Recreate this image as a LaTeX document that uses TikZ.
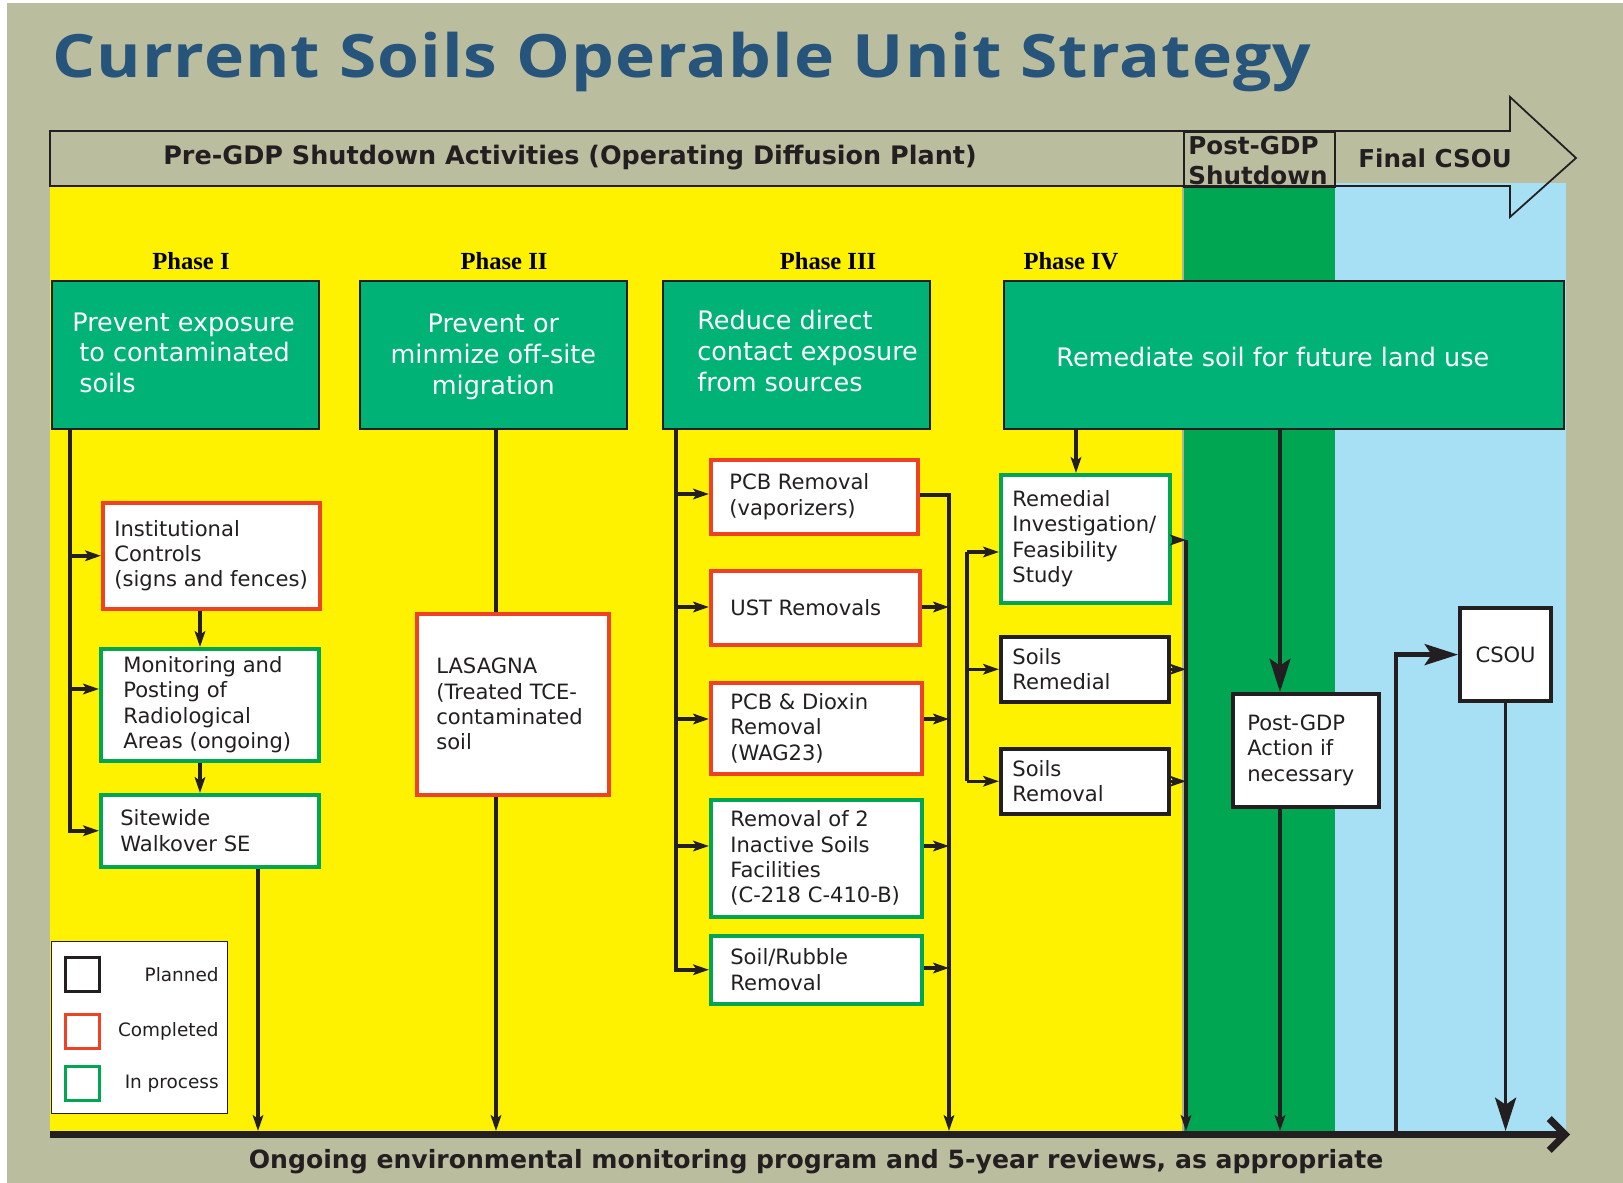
\documentclass[tikz,border=0pt]{standalone}
\usepackage{fontspec}
\setmainfont{DejaVu Sans}
\newfontfamily\titlefont[LetterSpace=1.5]{Open Sans}
\newfontfamily\phasefont{Liberation Serif}
\usetikzlibrary{arrows.meta, calc, positioning}

\definecolor{olivebg}{RGB}{187,189,159}
\definecolor{preyellow}{RGB}{255,242,0}
\definecolor{postgreen}{RGB}{0,166,81}
\definecolor{finalblue}{RGB}{167,223,245}
\definecolor{phasegreen}{RGB}{0,178,118}
\definecolor{donered}{RGB}{239,65,35}
\definecolor{inkblack}{RGB}{35,31,32}
\definecolor{titleblue}{RGB}{38,84,122}

\begin{document}
\begin{tikzpicture}[x=0.02cm, y=-0.02cm]
  \newcommand\barY{1131}
  \newcommand\phtop{280}

  \tikzset{actbox/.style={draw, fill=white, line width=2pt, inner sep=0pt, anchor=north west}}
  \tikzset{planbox/.style={actbox, draw=inkblack}}
  \tikzset{donebox/.style={actbox, draw=donered}}
  \tikzset{procbox/.style={actbox, draw=postgreen}}
  \tikzset{phasebox/.style={draw=inkblack, fill=phasegreen, line width=1pt, inner sep=0pt, anchor=north west, minimum height=2.96cm}}
  \tikzset{boxfont/.style={text=inkblack, font=\fontsize{12}{14.4}\selectfont}}
  \tikzset{boxtext/.style={boxfont, anchor=west, align=left, inner sep=0pt}}
  \tikzset{phasetext/.style={text=white, inner sep=0pt, font=\fontsize{14.5}{17.6}\selectfont}}
  \tikzset{hdrtext/.style={text=inkblack, inner sep=0pt, font=\bfseries\fontsize{14}{17}\selectfont}}
  \tikzset{wire/.style={draw=inkblack, line width=2pt}}
  \tikzset{ptr/.style={wire, -{Stealth[length=9pt, width=6pt, inset=2pt]}}}
  \tikzset{bigptr/.style={wire, -{Stealth[length=19pt, width=12pt, inset=4pt]}}}

  \useasboundingbox (0,0) rectangle (1623,1183);
  \fill[white] (0,0) rectangle (1623,1183);
  \fill[olivebg] (7,3) rectangle (1623,1183);

  % title and time line
  \node[anchor=base west, inner sep=0pt, text=titleblue, font=\titlefont\bfseries\fontsize{34}{36}\selectfont] (title) at (52,77) {\scalebox{1.135}[1]{Current Soils Operable Unit Strategy}};
  \fill[olivebg] (50,131) -- (1510,131) -- (1510,97) -- (1576,158) -- (1510,217) -- (1510,186) -- (50,186) -- cycle;
  \fill[preyellow] (50,186) rectangle (1182,\barY);
  \fill[olivebg!80!gray] (1182,186) rectangle (1184,\barY);
  \fill[postgreen] (1184,186) rectangle (1335,\barY);
  \fill[finalblue] (1335,183) rectangle (1566,\barY);
  \draw[inkblack, line width=1pt] (50,131) -- (1510,131) -- (1510,97) -- (1576,158) -- (1510,217) -- (1510,186) -- (50,186) -- cycle;
  \node[draw=inkblack, line width=1pt, anchor=north west, inner sep=0pt, minimum width=3.02cm, minimum height=1.1cm] (posthdr) at (1183,131) {};
  \node[hdrtext, font=\bfseries\fontsize{14.5}{17}\selectfont] (prehdr) at (570,158) {Pre-GDP Shutdown Activities (Operating Diffusion Plant)};
  \node[hdrtext, align=left, anchor=north west] (posthdr-t) at (1188,136) {Post-GDP\\Shutdown};
  \node[hdrtext, anchor=west] (finalhdr) at (1358,158) {Final CSOU};

  % phases
  \foreach \x/\num [count=\i] in {191/I, 504/II, 828/III, 1071/IV}{
    \node[inner sep=0pt, font=\phasefont\bfseries\fontsize{14}{16}\selectfont] (lbl\i) at (\x,261) {Phase \num};
  }
  \foreach \i/\xl/\phw in {1/51/5.34cm, 2/359/5.34cm, 3/662/5.34cm, 4/1003/11.2cm}{
    \node[phasebox, minimum width=\phw] (ph\i) at (\xl,\phtop) {};
  }
  \node[phasetext, align=left, anchor=west] (ph1-t) at ($(ph1.west)+(21,-2)$) {Prevent exposure\\\hspace*{4pt}to contaminated\\\hspace*{4pt}soils};
  \node[phasetext, align=center] (ph2-t) at ($(ph2)+(0,2)$) {Prevent or\\minmize off-site\\migration};
  \node[phasetext, align=left, anchor=west] (ph3-t) at ($(ph3.west)+(35,-4)$) {Reduce direct\\contact exposure\\from sources};
  \node[phasetext] (ph4-t) at ($(ph4)+(-11,2)$) {Remediate soil for future land use};

  % activities
  \foreach \bx/\xl/\yt/\xr/\yb/\kind/\pad/\txt in {
      inst/101/501/318/607/donebox/13/{Institutional\\Controls\\(signs and fences)},
      mon/99/647/317/759/procbox/24/{Monitoring and\\Posting of\\Radiological\\Areas (ongoing)},
      sw/99/793/317/865/procbox/21/{Sitewide\\Walkover SE},
      las/415/612/607/793/donebox/21/{LASAGNA\\(Treated TCE-\\contaminated\\soil},
      pcb/709/458/916/532/donebox/20/{PCB Removal\\(vaporizers)},
      ust/709/569/918/643/donebox/21/{UST Removals},
      diox/709/681/920/772/donebox/21/{PCB \& Dioxin\\Removal\\(WAG23)},
      inact/709/798/920/915/procbox/21/{Removal of 2\\Inactive Soils\\Facilities\\(C-218 C-410-B)},
      rub/709/934/920/1002/procbox/21/{Soil/Rubble\\Removal},
      rifs/999/473/1168/601/procbox/13/{Remedial\\Investigation/\\Feasibility\\Study},
      srem/999/635/1167/700/planbox/13/{Soils\\Remedial},
      srmv/999/747/1167/812/planbox/13/{Soils\\Removal},
      post/1231/692/1377/805/planbox/16/{Post-GDP\\Action if\\necessary}}{
    \node[\kind, minimum width=(\xr-\xl)*0.02cm, minimum height=(\yb-\yt)*0.02cm] (\bx) at (\xl,\yt) {};
    \node[boxtext] (\bx-t) at ($(\bx.west)+(\pad,0)$) {\txt};
  }
  \node[planbox, boxfont, line width=2.4pt, minimum width=1.82cm, minimum height=1.86cm] (csou) at (1458,606) {CSOU};

  % ongoing monitoring bar
  \coordinate (bar) at (50,\barY);
  \coordinate (barL) at (50,1134.5);
  \coordinate (barR) at (1570,1134.5);
  \draw[inkblack, line width=4pt, -{Straight Barb[length=9pt, width=18pt]}] (barL) -- (barR);
  \node[hdrtext, font=\bfseries\fontsize{14.3}{16}\selectfont] (ongoing) at (816,1162) {Ongoing environmental monitoring program and 5-year reviews, as appropriate};

  % phase I
  \coordinate (trunk1) at (ph1.south -| 70,0);
  \draw[ptr] (trunk1) |- (sw.west);
  \draw[ptr] (trunk1 |- inst.west) -- (inst.west);
  \draw[ptr] (trunk1 |- 0,689) -- (mon.west |- 0,689);
  \draw[ptr] (inst.south -| 200,0) -- (mon.north -| 200,0);
  \draw[ptr] (mon.south -| 200,0) -- (sw.north -| 200,0);
  \draw[ptr] (sw.south -| 258,0) -- (258,0 |- bar);

  % phase II
  \draw[wire] (ph2.south -| 496,0) -- (las.north -| 496,0);
  \draw[ptr] (las.south -| 496,0) -- (496,0 |- bar);

  % phase III
  \coordinate (trunk3) at (ph3.south -| 676,0);
  \coordinate (sink3) at (949,495);
  \draw[ptr] (trunk3) |- (rub.west);
  \foreach \bx/\y in {pcb/494, ust/607, diox/719, inact/846}{
    \draw[ptr] (trunk3 |- 0,\y) -- (\bx.west |- 0,\y);
  }
  \draw[ptr] (pcb.east |- sink3) -- (sink3) -- (sink3 |- bar);
  \foreach \bx/\y in {ust/607, diox/719, inact/846, rub/968}{
    \draw[ptr] (\bx.east |- 0,\y) -- (sink3 |- 0,\y);
  }

  % phase IV
  \coordinate (fork4) at (967,552);
  \coordinate (sink4) at (1186,540);
  \draw[ptr] (ph4.south -| 1076,0) -- (rifs.north -| 1076,0);
  \draw[wire] (fork4) -- (fork4 |- srmv.west);
  \draw[ptr] (fork4) -- (rifs.west |- fork4);
  \draw[ptr] (fork4 |- srem.west) -- (srem.west);
  \draw[ptr] (fork4 |- srmv.west) -- (srmv.west);
  \draw[ptr] (rifs.east |- sink4) -- (sink4);
  \draw[ptr] (sink4) -- (sink4 |- bar);
  \draw[ptr] (srem.east) -- (sink4 |- srem.east);
  \draw[ptr] (srmv.east) -- (sink4 |- srmv.east);

  % post-GDP and final
  \draw[bigptr] (ph4.south -| 1280,0) -- (post.north -| 1280,0);
  \draw[ptr] (post.south -| 1280,0) -- (1280,0 |- bar);
  \coordinate (loop5) at (1396,1134.5);
  \draw[bigptr, line width=2.4pt] (loop5) |- (csou.west);
  \draw[bigptr] (csou.south) -- (csou.south |- bar);

  % legend
  \node[draw=inkblack, fill=white, line width=0.6pt, anchor=north west, inner sep=0pt, minimum width=3.52cm, minimum height=3.44cm] (legend) at (51,941) {};
  \foreach \kind/\lbl/\y [count=\i] in {planbox/Planned/974.5, donebox/Completed/1031.5, procbox/In process/1083.5}{
    \node[\kind, anchor=center, minimum size=0.68cm] (key\i) at (82.5,\y) {};
    \node[boxtext, anchor=east, font=\fontsize{10.5}{12}\selectfont] (key\i-t) at (219,\y) {\lbl};
  }
\end{tikzpicture}
\end{document}
